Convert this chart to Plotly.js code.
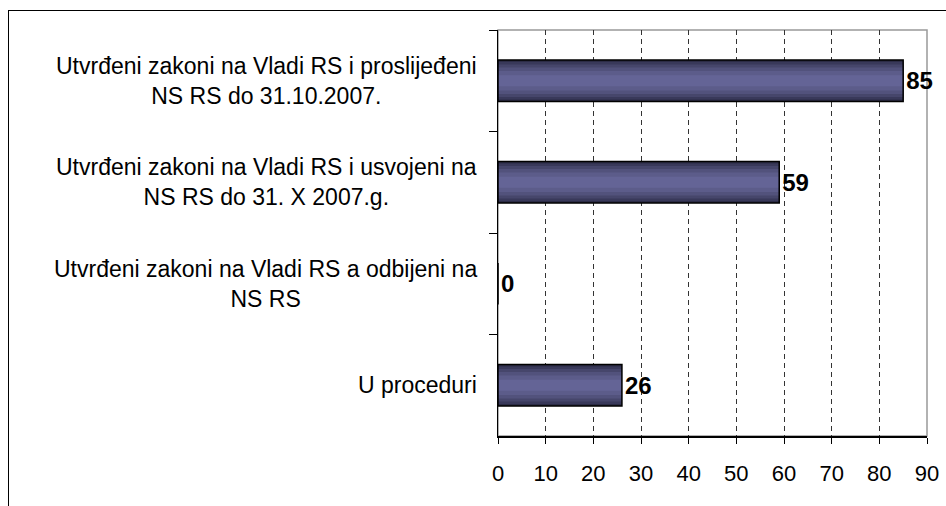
<!DOCTYPE html>
<html>
<head>
<meta charset="utf-8">
<script src="https://cdn.plot.ly/plotly-3.0.1.min.js"></script>
<style>
  html, body { margin: 0; padding: 0; background: #fff; overflow: hidden; }
  #wrap  { position: relative; width: 946px; height: 506px; }
  #frame { position: absolute; left: 8px; top: 10px; width: 1000px; height: 600px;
           border-left: 1.5px solid #000; border-top: 1.5px solid #000; pointer-events: none; }
  #chart { position: absolute; left: 0; top: 0; width: 946px; height: 506px; }
</style>
</head>
<body>
<div id="wrap">
  <div id="chart"></div>
  <div id="frame"></div>
</div>
<script>
(function () {
  'use strict';

  // ─── Data ───────────────────────────────────────────────────────────────────
  var categories = [
    'Utvrđeni zakoni na Vladi RS i proslijeđeni<br>NS RS do 31.10.2007.',
    'Utvrđeni zakoni na Vladi RS i usvojeni na<br>NS RS do 31. X 2007.g.',
    'Utvrđeni zakoni na Vladi RS a odbijeni na<br>NS RS',
    'U proceduri'
  ];
  var values = [85, 59, 0, 26];
  var xTicks = [0, 10, 20, 30, 40, 50, 60, 70, 80, 90];

  var FONT = 'Liberation Sans, Arial, sans-serif';

  // ─── Gradient bands (outer dark -> inner light) ────────────────────────────
  var bands = [
    { w: 0.41, c: '#2c2c46' },
    { w: 0.37, c: '#39395a' },
    { w: 0.32, c: '#46466b' },
    { w: 0.26, c: '#52527c' },
    { w: 0.19, c: '#5c5c8a' },
    { w: 0.11, c: '#646496' }
  ];

  var traces = bands.map(function (b) {
    return {
      type: 'bar', orientation: 'h',
      x: values, y: categories,
      width: b.w,
      marker: { color: b.c, line: { width: 0 } },
      hoverinfo: 'skip'
    };
  });

  // outline + value labels on top
  traces.push({
    type: 'bar', orientation: 'h',
    x: values, y: categories,
    width: 0.41,
    marker: { color: 'rgba(0,0,0,0)', line: { color: '#000', width: 1.5 } },
    text: values.map(String),
    textposition: 'outside',
    textfont: { family: FONT, size: 24, color: '#000', weight: 'bold' },
    cliponaxis: false
  });

  // category labels, centred lines like the original
  var labels = categories.map(function (c) {
    return {
      xref: 'paper', yref: 'y', x: 0, y: c,
      xanchor: 'right', yanchor: 'middle', xshift: -19,
      text: c, align: 'center', showarrow: false,
      font: { family: FONT, size: 23, color: '#000' }
    };
  });

  var layout = {
    width: 946, height: 506,
    margin: { l: 498, r: 19, t: 30, b: 70 },
    paper_bgcolor: 'rgba(0,0,0,0)',
    plot_bgcolor: '#fff',
    barmode: 'overlay',
    showlegend: false,
    font: { family: FONT, color: '#000' },
    xaxis: {
      range: [0, 90],
      tickvals: xTicks,
      ticks: 'outside', ticklen: 6, tickcolor: '#000', tickwidth: 1,
      ticklabelstandoff: 11,
      tickfont: { size: 22, family: FONT },
      showline: true, linecolor: '#000', linewidth: 1.5,
      showgrid: true, gridcolor: '#333', gridwidth: 1, griddash: '5px,4px',
      zeroline: false, fixedrange: true
    },
    yaxis: {
      autorange: 'reversed',
      type: 'category',
      ticks: 'outside', tickson: 'boundaries', ticklen: 8, tickcolor: '#000',
      showticklabels: false,
      showline: true, linecolor: '#000', linewidth: 1.5,
      showgrid: false, zeroline: false, fixedrange: true
    },
    annotations: labels,
    shapes: [{
      type: 'rect', xref: 'paper', yref: 'paper', x0: 0, x1: 1, y0: 0, y1: 1,
      line: { color: '#999', width: 1.5 }, layer: 'below'
    }]
  };

  Plotly.newPlot('chart', traces, layout, { displayModeBar: false, staticPlot: true });
})();
</script>
</body>
</html>
